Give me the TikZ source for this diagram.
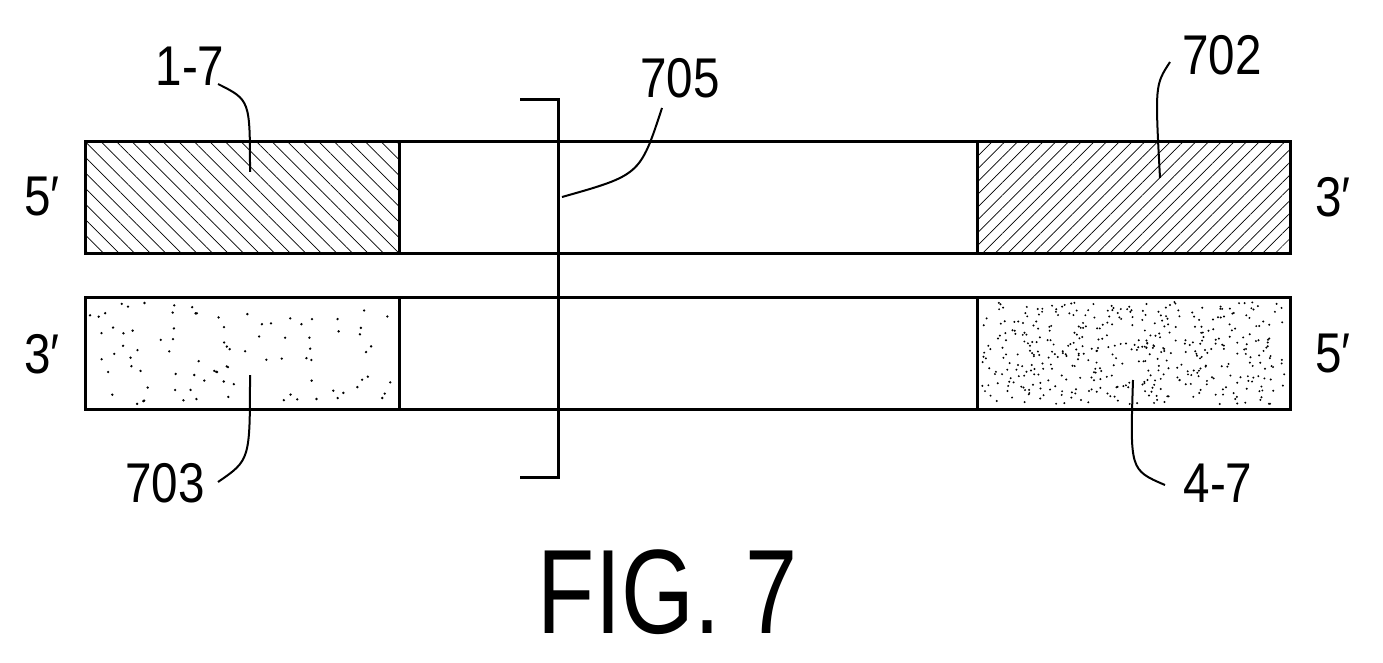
\documentclass[tikz,border=0pt]{standalone}
\usepackage{fontspec}
\setmainfont{Liberation Sans}
\usetikzlibrary{patterns.meta}
\tikzset{
  box/.style={draw, line width=3pt},
  lbl/.style={font=\fontsize{56}{56}\selectfont, xscale=0.85},
  lead/.style={line width=2pt},
}
\begin{document}
\begin{tikzpicture}[x=1pt, y=-1pt]
\useasboundingbox (0,0) rectangle (1383,663);
% Shaded end regions
    \fill[pattern={Lines[angle=-45,distance=11pt,line width=0.7pt]}] (85,142) rectangle (399,253);
    \fill[pattern={Lines[angle=45,distance=9pt,line width=0.7pt]}] (977,142) rectangle (1290,253);
    \pgfmathsetseed{7}
    \foreach \i in {1,...,90}
        \fill ({90+rnd*305},{302+rnd*102}) circle(1.3);
    \foreach \i in {1,...,450}
        \fill ({982+rnd*303},{302+rnd*102}) circle(1.1);
% Strands
    \draw[box] (85,142) rectangle (1290,253);
    \draw[box] (399,142) -- (399,253);
    \draw[box] (977,142) -- (977,253);
    \draw[box] (85,297) rectangle (1290,409);
    \draw[box] (399,297) -- (399,409);
    \draw[box] (977,297) -- (977,409);
% Bracket
    \draw[line width=3pt] (520,100) -- (558,100) -- (558,477) -- (520,477);
% End labels
    \node[lbl] (t5) at (42,197) {5′};
    \node[lbl] (t3) at (1333,197) {3′};
    \node[lbl] (b3) at (42,354) {3′};
    \node[lbl] (b5) at (1333,354) {5′};
% Reference labels and leaders
    \node[lbl] (n17) at (190,66) {1-7};
    \node[lbl] (n702) at (1222,55) {702};
    \node[lbl] (n705) at (680,78) {705};
    \node[lbl] (n703) at (165,483) {703};
    \node[lbl] (n47) at (1218,483) {4-7};
    \coordinate (e17) at (250,172);
    \coordinate (e702) at (1160,178);
    \coordinate (e705) at (562,197);
    \coordinate (e703) at (250,375);
    \coordinate (e47) at (1133,380);
    \draw[lead] (218,84) .. controls (250,100) .. (e17);
    \draw[lead] (1170,62) .. controls (1155,85) .. (e702);
    \draw[lead] (662,108) .. controls (640,175) .. (e705);
    \draw[lead] (218,482) .. controls (250,460) .. (e703);
    \draw[lead] (1165,485) .. controls (1130,470) .. (e47);
% Title
    \node[font=\fontsize{120}{120}\selectfont, xscale=0.78] (fig) at (668,592) {FIG. 7};
\end{tikzpicture}
\end{document}
